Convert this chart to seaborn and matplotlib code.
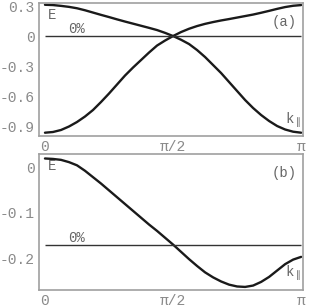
import numpy as np
import pandas as pd
import seaborn as sns
import matplotlib
matplotlib.use("Agg")
import matplotlib.pyplot as plt

# k_parallel in units of pi/32
k_steps = list(range(33))

# panel (a): two bands crossing at pi/2
band_a1 = [0.313, 0.310, 0.302, 0.292, 0.278, 0.258, 0.235, 0.212, 0.19,
           0.167, 0.145, 0.124, 0.103, 0.082, 0.06, 0.032, 0.0,
           -0.037, -0.08, -0.14, -0.21, -0.29, -0.37, -0.46, -0.55,
           -0.64, -0.72, -0.79, -0.85, -0.90, -0.935, -0.957, -0.967]
band_a2 = [-0.967, -0.96, -0.94, -0.905, -0.86, -0.805, -0.74, -0.66, -0.575,
           -0.485, -0.395, -0.315, -0.24, -0.165, -0.095, -0.045, 0.0,
           0.04, 0.073, 0.1, 0.122, 0.14, 0.156, 0.17, 0.185,
           0.2, 0.215, 0.233, 0.252, 0.272, 0.29, 0.303, 0.31]
# panel (b): single band
band_b = [0.019, 0.018, 0.016, 0.011, 0.004, -0.008, -0.022, -0.036, -0.051,
          -0.066, -0.081, -0.096, -0.111, -0.126, -0.14, -0.155, -0.17,
          -0.186, -0.202, -0.217, -0.231, -0.242, -0.251, -0.258, -0.262,
          -0.263, -0.26, -0.252, -0.241, -0.227, -0.213, -0.203, -0.197]

fermi_a = 0.0
fermi_b = -0.17

yticks_a = [0.3, 0, -0.3, -0.6, -0.9]
yticklabels_a = ["0.3", "0", "-0.3", "-0.6", "-0.9"]
yticks_b = [0, -0.1, -0.2]
yticklabels_b = ["0", "-0.1", "-0.2"]
xticks = [0, np.pi / 2, np.pi]
xticklabels = ["0", "\u03c0/2", "\u03c0"]

n = len(k_steps)
k = np.array(k_steps) * np.pi / 32
df_a = pd.DataFrame({"k": np.concatenate([k, k]),
                     "E": band_a1 + band_a2,
                     "band": ["1"] * n + ["2"] * n})
df_b = pd.DataFrame({"k": k, "E": band_b})

sns.set_style("white")
plt.rcParams["font.family"] = ["Liberation Mono", "DejaVu Sans"]

grey = "#8a8a8a"
fig = plt.figure(figsize=(3.09, 3.07), dpi=100)
ax1 = fig.add_axes([0.126, 0.557, 0.855, 0.433])
ax2 = fig.add_axes([0.126, 0.055, 0.855, 0.443])

sns.lineplot(data=df_a, x="k", y="E", units="band", estimator=None,
             color="#1a1a1a", lw=1.7, ax=ax1)
sns.lineplot(data=df_b, x="k", y="E", color="#1a1a1a", lw=1.7, ax=ax2)
ax1.hlines(fermi_a, 0, np.pi, color="#333333", lw=1.0)
ax2.hlines(fermi_b, 0, np.pi, color="#333333", lw=1.0)

ax1.set_ylim(-1.0, 0.33)
ax2.set_ylim(-0.27, 0.0286)
ax1.set_yticks(yticks_a, yticklabels_a)
ax2.set_yticks(yticks_b, yticklabels_b)

for ax, tag, fy in [(ax1, "(a)", fermi_a), (ax2, "(b)", fermi_b)]:
    ax.set_xlim(-0.074, 3.166)
    ax.set_xticks(xticks, xticklabels)
    ax.set_xlabel("")
    ax.set_ylabel("")
    for s in ax.spines.values():
        s.set_color("#a0a0a0")
        s.set_linewidth(1.2)
    ax.tick_params(direction="in", length=2, width=0.8, color="#888888",
                   labelsize=10.5, labelcolor=grey, pad=3)
    ax.text(0.035, 0.91, "E", transform=ax.transAxes, fontsize=10,
            color="#666666", va="center")
    ax.text(0.11, fy, "0%", transform=ax.get_yaxis_transform(), fontsize=10,
            color="#666666", va="bottom")
    ax.text(0.93, 0.86, tag, transform=ax.transAxes, fontsize=10,
            color="#666666", ha="center", va="center")
    ax.text(0.96, 0.12, "k$_{\\parallel}$", transform=ax.transAxes,
            fontsize=10, color="#666666", ha="center", va="center")

fig.savefig("out.png", dpi=100)
